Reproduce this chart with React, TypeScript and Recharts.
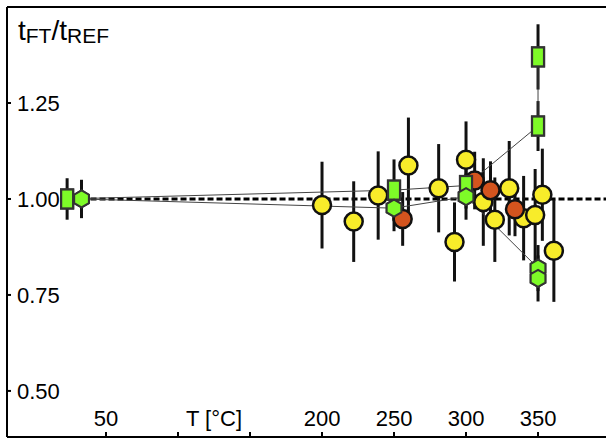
import React from 'react';
import {
  ScatterChart,
  Scatter,
  XAxis,
  YAxis,
  ErrorBar,
  ReferenceLine,
} from 'recharts';

// temperature axis (°C) and ratio axis
const X_MIN = -18.75;
const X_MAX = 397.2;
const Y_MIN = 0.38;
const Y_MAX = 1.5;
const xTicks = [50, 100, 125, 150, 200, 250, 300, 350];
const xTickLabels: Record<number, string> = {
  50: '50',
  125: 'T [°C]',
  200: '200',
  250: '250',
  300: '300',
  350: '350',
};
const yTicks = [0.5, 0.75, 1.0, 1.25];

// yellow circles
const yellowT = [200, 222, 239, 260, 281, 292, 300, 312, 320, 330, 340, 348, 353, 361];
const yellowV = [0.984, 0.941, 1.009, 1.087, 1.028, 0.888, 1.102, 0.992, 0.946, 1.028, 0.95, 0.958, 1.011, 0.865];
const yellowErr = [0.113, 0.105, 0.115, 0.125, 0.115, 0.103, 0.1, 0.114, 0.11, 0.123, 0.11, 0.12, 0.12, 0.133];

// red circles
const redT = [256, 306, 317, 334];
const redV = [0.948, 1.048, 1.023, 0.973];
const redErr = [0.07, 0.075, 0.075, 0.07];

// green squares (connected)
const squareT = [23, 250, 300, 350, 350];
const squareV = [1.0, 1.023, 1.035, 1.19, 1.37];
const squareErr = [0.054, 0.08, 0.06, 0.065, 0.085];

// green hexagons (connected)
const hexT = [33, 250, 300, 350, 350];
const hexV = [1.0, 0.976, 1.006, 0.82, 0.793];
const hexErr = [0.05, 0.06, 0.06, 0.06, 0.06];

const toRows = (t: number[], v: number[], e: number[]) =>
  t.map((x, i) => ({ t: x, v: v[i], e: e[i] }));

const yellowData = toRows(yellowT, yellowV, yellowErr);
const redData = toRows(redT, redV, redErr);
const squareData = toRows(squareT, squareV, squareErr);
const hexData = toRows(hexT, hexV, hexErr);

const FONT = "'Liberation Sans', Arial, sans-serif";
const YELLOW = '#f8ec2a';
const RED = '#d3541e';
const GREEN = '#7efb28';

const Circle = (fill: string) => (p: any) => (
  <circle cx={p.cx} cy={p.cy} r={9} fill={fill} stroke="#111" strokeWidth={2.5} />
);

const Square = (p: any) => (
  <rect x={p.cx - 6} y={p.cy - 9.5} width={12} height={19} fill={GREEN} stroke="#333" strokeWidth={2.2} />
);

const Hexagon = (p: any) => {
  const r = 8.5;
  const pts = [0, 1, 2, 3, 4, 5]
    .map((k) => {
      const a = (Math.PI / 3) * k - Math.PI / 2;
      return `${p.cx + r * Math.cos(a)},${p.cy + r * Math.sin(a)}`;
    })
    .join(' ');
  return <polygon points={pts} fill={GREEN} stroke="#333" strokeWidth={2} />;
};

const XTick = (p: any) => {
  const v = p.payload.value;
  const label = xTickLabels[v];
  return (
    <g>
      {v !== 125 && <line x1={p.x} x2={p.x} y1={p.y} y2={p.y - 5} stroke="#000" strokeWidth={2} />}
      {label && (
        <text x={p.x} y={p.y - 11} textAnchor="middle" fontSize={22} fontFamily={FONT} fill="#000">
          {label}
        </text>
      )}
    </g>
  );
};

const YTick = (p: any) => (
  <g>
    <line x1={p.x} x2={p.x + 4} y1={p.y} y2={p.y} stroke="#000" strokeWidth={2} />
    <text x={p.x + 10} y={p.y} dy="0.36em" textAnchor="start" fontSize={22} fontFamily={FONT} fill="#000">
      {p.payload.value.toFixed(2)}
    </text>
  </g>
);

export default function App() {
  return (
    <div style={{ position: 'absolute', left: 0, top: 0, width: 606, height: 441, background: '#fff' }}>
      <ScatterChart width={606} height={441} margin={{ top: 7, left: 6, right: 0, bottom: 3 }}>
        <XAxis
          type="number"
          dataKey="t"
          domain={[X_MIN, X_MAX]}
          ticks={xTicks}
          interval={0}
          height={1}
          tickSize={0}
          tickMargin={0}
          tick={XTick}
          axisLine={{ stroke: '#000', strokeWidth: 2 }}
          allowDataOverflow
        />
        <YAxis
          type="number"
          dataKey="v"
          domain={[Y_MIN, Y_MAX]}
          ticks={yTicks}
          interval={0}
          width={1}
          tickSize={0}
          tickMargin={0}
          tick={YTick}
          axisLine={{ stroke: '#000', strokeWidth: 2 }}
          allowDataOverflow
        />
        <ReferenceLine y={Y_MAX} stroke="#000" strokeWidth={2} />
        <ReferenceLine
          segment={[{ x: hexT[0], y: 1 }, { x: X_MAX, y: 1 }]}
          stroke="#000"
          strokeWidth={3}
          strokeDasharray="6 3"
        />
        <Scatter data={squareData} shape={Square} line={{ stroke: '#444', strokeWidth: 1 }} lineType="joint" isAnimationActive={false}>
          <ErrorBar dataKey="e" direction="y" width={0} stroke="#111" strokeWidth={3} />
        </Scatter>
        <Scatter data={hexData} shape={Hexagon} line={{ stroke: '#444', strokeWidth: 1 }} lineType="joint" isAnimationActive={false}>
          <ErrorBar dataKey="e" direction="y" width={0} stroke="#111" strokeWidth={3} />
        </Scatter>
        <Scatter data={yellowData} shape={Circle(YELLOW)} isAnimationActive={false}>
          <ErrorBar dataKey="e" direction="y" width={0} stroke="#111" strokeWidth={3} />
        </Scatter>
        <Scatter data={redData} shape={Circle(RED)} isAnimationActive={false}>
          <ErrorBar dataKey="e" direction="y" width={0} stroke="#111" strokeWidth={3} />
        </Scatter>
        {/* green markers again, on top of the circles */}
        <Scatter data={squareData} shape={Square} isAnimationActive={false} />
        <Scatter data={hexData} shape={Hexagon} isAnimationActive={false} />
      </ScatterChart>
      <svg width={200} height={60} style={{ position: 'absolute', left: 0, top: 0 }}>
        <text x={18} y={40} fontFamily={FONT} fontSize={28} fill="#000">
          t
          <tspan fontSize={21} dy={3}>FT</tspan>
          <tspan fontSize={28} dy={-3}>/t</tspan>
          <tspan fontSize={21} dy={3}>REF</tspan>
        </text>
      </svg>
    </div>
  );
}
